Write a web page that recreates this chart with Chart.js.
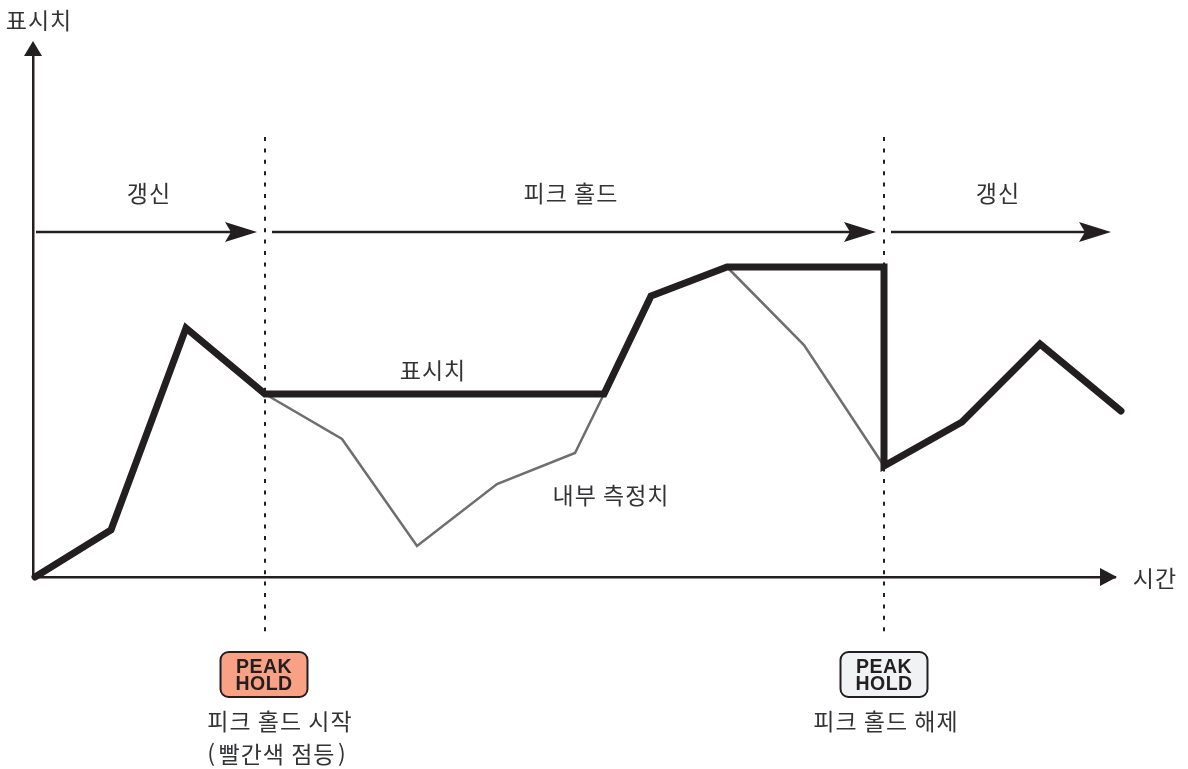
<!DOCTYPE html>
<html lang="ko">
<head>
<meta charset="utf-8">
<title>피크 홀드</title>
<script src="https://cdn.jsdelivr.net/npm/chart.js@4/dist/chart.umd.min.js"></script>
<style>
    html, body { margin: 0; background: #fff; }
    canvas { display: block; }
</style>
</head>
<body>
<canvas id="chart" width="1188" height="769"></canvas>
<script>
// Values (no ticks in the original, units are arbitrary)
const displayTimes = [0.2, 7.8, 15.3, 23.2, 57.1, 61.8, 69.4, 85.1, 85.1, 92.9, 100.7, 108.8];
const displayValues = [0, 4.7, 24.9, 18.3, 18.3, 28.1, 31, 31, 11.1, 15.5, 23.3, 16.6];
// null: the internal value is not drawn while it equals the display value
const internalTimes = [23.2, 30.9, 38.4, 46.4, 54.2, 57.1, 63, 69.4, 77.1, 85.1];
const internalValues = [18.3, 13.8, 3.1, 9.3, 12.4, 18.3, null, 31, 23.2, 11.1];
const holdStart = 23.2;
const holdEnd = 85.1;
const rangeLabels = ['갱신', '피크 홀드', '갱신'];

const INK = '#231f20';
const TEXT = '#333335';
const KR_FONT = '"Noto Sans CJK KR", "Noto Sans", sans-serif';

function toPoints(xs, ys) {
    return xs.map((x, i) => ({ x: x, y: ys[i] }));
}

// Arrowheads, period arrows, text and the two PEAK HOLD badges
const notesPlugin = {
    id: 'notes',
    afterDatasetsDraw(chart) {
        const ctx = chart.ctx;
        const sx = chart.scales.x;
        const sy = chart.scales.y;
        const px = v => sx.getPixelForValue(v);
        const py = v => sy.getPixelForValue(v);

        function label(text, x, y) {
            ctx.save();
            ctx.font = '400 23px ' + KR_FONT;
            ctx.letterSpacing = '1px';
            ctx.fillStyle = TEXT;
            ctx.textAlign = 'center';
            ctx.textBaseline = 'middle';
            ctx.fillText(text, px(x), py(y));
            ctx.restore();
        }

        function stealthArrow(x0, x1, y) {
            const tip = px(x1);
            const yy = py(y);
            ctx.save();
            ctx.strokeStyle = INK;
            ctx.fillStyle = INK;
            ctx.lineWidth = 2.5;
            ctx.beginPath();
            ctx.moveTo(px(x0), yy);
            ctx.lineTo(tip - 20, yy);
            ctx.stroke();
            ctx.beginPath();
            ctx.moveTo(tip, yy);
            ctx.lineTo(tip - 32, yy - 10);
            ctx.lineTo(tip - 26, yy);
            ctx.lineTo(tip - 32, yy + 10);
            ctx.closePath();
            ctx.fill();
            ctx.restore();
        }

        function triangle(x1, y1, x2, y2, x3, y3) {
            ctx.save();
            ctx.fillStyle = INK;
            ctx.beginPath();
            ctx.moveTo(x1, y1);
            ctx.lineTo(x2, y2);
            ctx.lineTo(x3, y3);
            ctx.closePath();
            ctx.fill();
            ctx.restore();
        }

        function badge(center, fill) {
            const w = 87, h = 45;
            const left = px(center) - w / 2;
            const top = 652;
            ctx.save();
            ctx.fillStyle = fill;
            ctx.strokeStyle = INK;
            ctx.lineWidth = 2;
            ctx.beginPath();
            ctx.roundRect(left, top, w, h, 8);
            ctx.fill();
            ctx.stroke();
            ctx.fillStyle = INK;
            ctx.font = 'bold 19.5px "Liberation Sans", Arial, sans-serif';
            ctx.letterSpacing = '0.4px';
            ctx.textAlign = 'center';
            ctx.textBaseline = 'middle';
            ctx.fillText('PEAK', left + w / 2, top + 15.5);
            ctx.fillText('HOLD', left + w / 2, top + 32.5);
            ctx.restore();
        }

        // axis arrowheads
        triangle(sx.left, sy.top - 4, sx.left - 9, sy.top + 11, sx.left + 9, sy.top + 11);
        triangle(sx.right + 2, sy.bottom, sx.right - 15, sy.bottom - 9, sx.right - 15, sy.bottom + 9);

        // periods
        stealthArrow(0.3, 22.4, 34.5);
        stealthArrow(23.9, 84.3, 34.5);
        stealthArrow(85.8, 107.8, 34.5);
        label(rangeLabels[0], 11.6, 38.4);
        label(rangeLabels[1], 53.8, 38.4);
        label(rangeLabels[2], 96.5, 38.4);

        // series and axis names
        label('표시치', 0.6, 55.7);
        label('표시치', 40, 20.7);
        label('내부 측정치', 57.8, 8.2);
        label('시간', 112.2, -0.1);

        // badges and captions
        badge(23.1, '#f8a184');
        badge(85.1, '#f1f2f4');
        label('피크 홀드 시작', 24.7, -14.4);
        label('(\u200a빨간색 점등\u200a)', 24.4, -17.7);
        label('피크 홀드 해제', 85.3, -14.4);
    }
};

new Chart(document.getElementById('chart'), {
    type: 'line',
    data: {
        datasets: [
            {
                label: '표시치',
                data: toPoints(displayTimes, displayValues),
                borderColor: INK,
                borderWidth: 7,
                borderCapStyle: 'round',
                borderJoinStyle: 'miter',
                pointRadius: 0,
                clip: false,
                order: 1
            },
            {
                label: '내부 측정치',
                data: toPoints(internalTimes, internalValues),
                borderColor: '#6d6e70',
                borderWidth: 2.5,
                borderJoinStyle: 'miter',
                pointRadius: 0,
                spanGaps: false,
                clip: false,
                order: 2
            },
            {
                label: '피크 홀드 시작',
                data: toPoints([holdStart, holdStart], [44, -6]),
                borderColor: INK,
                borderWidth: 2,
                borderDash: [4, 7.4],
                pointRadius: 0,
                clip: false,
                order: 3
            },
            {
                label: '피크 홀드 해제',
                data: toPoints([holdEnd, holdEnd], [44, -6]),
                borderColor: INK,
                borderWidth: 2,
                borderDash: [4, 7.4],
                pointRadius: 0,
                clip: false,
                order: 3
            }
        ]
    },
    options: {
        responsive: false,
        animation: false,
        layout: { padding: { left: 33, top: 45, right: 73, bottom: 192 } },
        plugins: { legend: { display: false }, tooltip: { enabled: false } },
        scales: {
            x: {
                type: 'linear',
                min: 0,
                max: 108.2,
                ticks: { display: false },
                grid: { display: false, drawTicks: false },
                border: { color: INK, width: 2.5 }
            },
            y: {
                min: 0,
                max: 53.2,
                ticks: { display: false },
                grid: { display: false, drawTicks: false },
                border: { color: INK, width: 2.5 }
            }
        }
    },
    plugins: [notesPlugin]
});
</script>
</body>
</html>
